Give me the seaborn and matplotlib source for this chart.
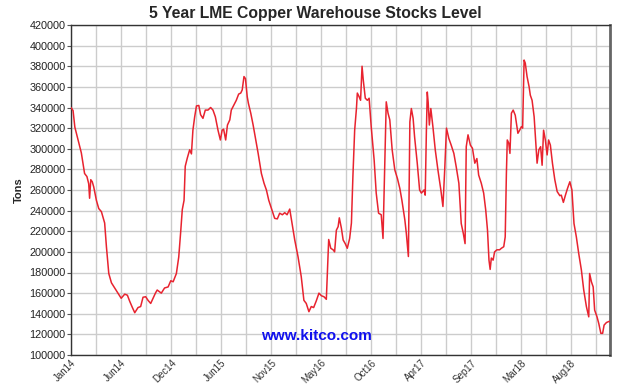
import numpy as np
import pandas as pd
import matplotlib
matplotlib.use("Agg")
import matplotlib.pyplot as plt
import seaborn as sns

# Days since start of the 5-year window and LME copper stocks (tons)
days = [0, 7, 13, 21, 35, 46, 54, 60, 63, 67, 72, 77, 86, 94, 103, 114, 120, 128, 137, 148,
        159, 170, 182, 191, 199, 208, 216, 227, 236, 244, 253, 261, 270, 278, 286, 292, 301, 306,
        317, 329, 338, 346, 357, 365, 372, 377, 383, 387, 394, 402, 408, 413, 419, 425, 433, 439,
        447, 455, 464, 473, 481, 489, 498, 506, 512, 517, 524, 530, 538, 543, 552, 560, 568, 575,
        580, 586, 591, 597, 601, 609, 617, 624, 634, 645, 654, 662, 670, 681, 690, 699, 707, 716,
        724, 732, 741, 749, 758, 769, 780, 789, 797, 806, 814, 822, 831, 840, 848, 857, 865, 868,
        873, 880, 888, 893, 899, 905, 909, 916, 922, 929, 936, 944, 950, 955, 961, 967, 970, 976,
        981, 986, 990, 997, 1004, 1010, 1017, 1027, 1034, 1042, 1051, 1057, 1063, 1068, 1074, 1080,
        1088, 1097, 1106, 1114, 1121, 1131, 1136, 1143, 1148, 1153, 1159, 1164, 1173, 1181, 1187,
        1196, 1200, 1204, 1207, 1210, 1214, 1219, 1226, 1234, 1243, 1253, 1260, 1266, 1272, 1280,
        1288, 1297, 1305, 1314, 1322, 1329, 1335, 1339, 1345, 1353, 1360, 1368, 1375, 1381, 1390,
        1398, 1405, 1411, 1416, 1420, 1424, 1430, 1435, 1443, 1452, 1458, 1466, 1471, 1475, 1478,
        1483, 1487, 1492, 1498, 1505, 1514, 1520, 1526, 1530, 1535, 1539, 1545, 1552, 1556, 1562,
        1569, 1574, 1579, 1585, 1591, 1596, 1601, 1607, 1613, 1618, 1624, 1631, 1639, 1647, 1656,
        1661, 1668, 1675, 1682, 1690, 1697, 1704, 1712, 1720, 1729, 1737, 1746, 1754, 1757, 1763,
        1769, 1774, 1782, 1788, 1795, 1801, 1806, 1814, 1822, 1826]
stocks = [340000, 337000, 321000, 312000, 296000, 276000, 273000, 266000, 252000, 270000,
          268000, 263000, 250000, 242000, 239000, 228000, 205000, 179000, 170000, 165000,
          160000, 155000, 159000, 158000, 152000, 146000, 141000, 146000, 147000, 156000,
          156500, 153000, 150000, 155000, 160000, 163000, 161000, 160000, 165000, 166000,
          172000, 171000, 179000, 195000, 221000, 241000, 250000, 283000, 291000, 299000,
          295000, 318000, 331000, 341500, 342000, 333000, 329500, 337500, 337500, 340000,
          337500, 331000, 318000, 308500, 318000, 319000, 308500, 323000, 328000, 337500,
          342500, 347000, 353000, 354000, 357000, 370000, 368000, 350500, 344000, 334500,
          323000, 311500, 295500, 276000, 266500, 260000, 250000, 240500, 232500, 232000,
          237500, 236000, 238000, 236000, 241500, 227500, 211500, 195500, 176000, 153000,
          150000, 142000, 147000, 146000, 152500, 160000, 157500, 156500, 154000, 176000,
          212000, 203500, 202000, 200000, 221000, 224500, 233000, 223000, 211500, 208000,
          203500, 213000, 228000, 273000, 318000, 339000, 354000, 350500, 347000, 380000,
          367000, 349000, 347000, 349000, 321500, 289000, 257000, 237500, 236000, 213000,
          286000, 345500, 334500, 328000, 299000, 279500, 271000, 261500, 250000, 231000,
          218000, 195500, 326000, 339000, 329500, 311500, 286000, 260000, 257000, 260000,
          255000, 318000, 355000, 345000, 323000, 339000, 321500, 299000, 279500, 260000,
          244000, 279500, 320000, 310000, 303500, 295500, 282500, 266500, 227500, 218000,
          208000, 302000, 313500, 303500, 300500, 286000, 290500, 274500, 266500, 257000,
          240500, 221000, 192000, 183000, 194000, 192000, 200000, 202000, 202000, 203500,
          205000, 214500, 276000, 308500, 305500, 295500, 334500, 337500, 332500, 315000,
          318000, 321500, 320000, 386000, 383000, 370000, 360000, 352000, 347000, 331000,
          308500, 286000, 299000, 302000, 284000, 318000, 308500, 294000, 308500, 303500,
          286000, 270000, 258500, 254500, 255000, 248000, 255000, 261500, 268000, 260000,
          227500, 214500, 198500, 182500, 163000, 147000, 137000, 179000, 171000, 166000,
          143500, 137000, 130500, 121000, 121000, 129000, 131500, 132500, 132500]

tick_labels = ["Jan14", "Jun14", "Dec14", "Jun15", "Nov15", "May16", "Oct16",
               "Apr17", "Sep17", "Mar18", "Aug18"]
y_ticks = list(range(100000, 420001, 20000))

df = pd.DataFrame({"day": days, "tons": stocks})

sns.set_style("white")
plt.rcParams["font.family"] = ["Liberation Sans", "DejaVu Sans"]

fig = plt.figure(figsize=(6.4, 3.86), dpi=100)
ax = fig.add_axes([71 / 640, 31 / 386, 539 / 640, 330 / 386])

span = 1826
label_step = span * 50 / 539
ax.set_xlim(0, span)
ax.set_ylim(100000, 420000)

minor = np.arange(0, span, label_step / 2)
for xv in minor:
    ax.axvline(xv, color="#cccccc", lw=1.0, zorder=0)
for yv in y_ticks:
    ax.axhline(yv, color="#cccccc", lw=1.0, zorder=0)

sns.lineplot(data=df, x="day", y="tons", ax=ax, color="#e8232f", lw=1.1, zorder=3)

ax.set_yticks(y_ticks)
ax.set_yticklabels([str(v) for v in y_ticks], fontsize=7.8, color="#222222")
ax.set_xticks([i * label_step for i in range(len(tick_labels))])
ax.set_xticklabels(tick_labels, rotation=45, ha="right", rotation_mode="anchor",
                   fontsize=7.0, color="#333333")
ax.tick_params(axis="y", length=3, width=0.8, color="#555555", pad=1, left=True)
ax.tick_params(axis="x", length=0, pad=2)

ax.set_xlabel("")
ax.set_ylabel("Tons", fontsize=8, fontweight="bold")
ax.yaxis.set_label_coords((24 - 71) / 539, 0.5)

for side in ["left", "bottom", "top"]:
    ax.spines[side].set_color("#333333")
    ax.spines[side].set_linewidth(1.0)
ax.spines["right"].set_color("#666666")
ax.spines["right"].set_linewidth(2.0)

ax.set_title("5 Year LME Copper Warehouse Stocks Level", fontsize=11.3,
             fontweight="bold", pad=5, x=(315.5 - 71) / 539)
ax.text(0.455, 0.058, "www.kitco.com", transform=ax.transAxes, color="#1010ee",
        fontsize=11, fontweight="bold", ha="center", va="center", zorder=4)

fig.savefig("out.png", dpi=100)
